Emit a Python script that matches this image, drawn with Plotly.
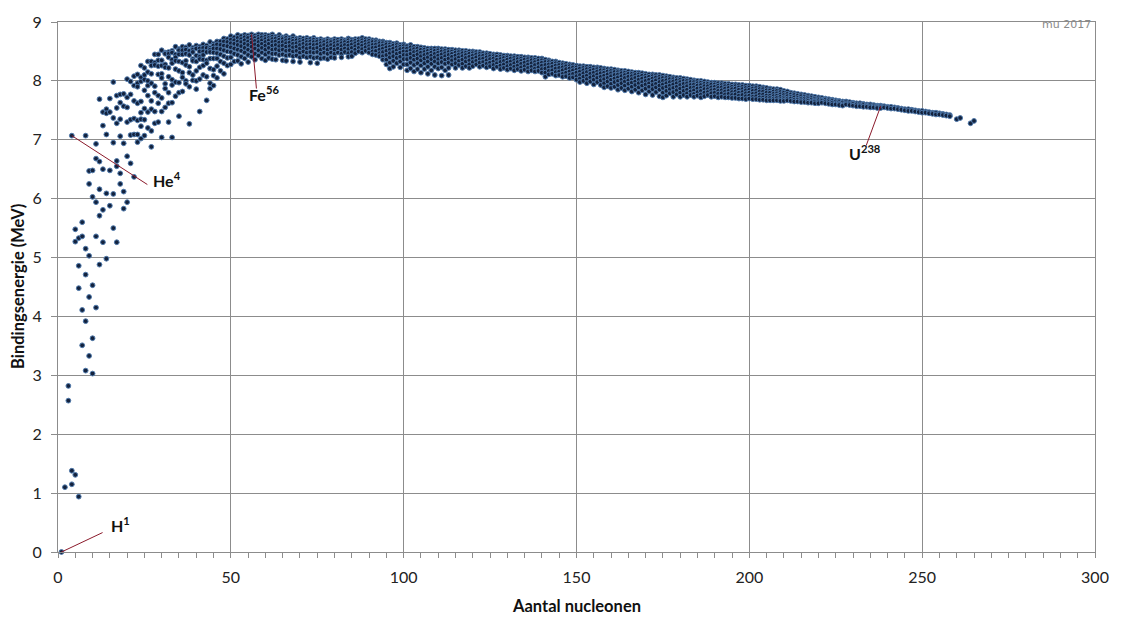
import plotly.graph_objects as go

# ---------------- data ----------------
# (mass number A, [binding energy per nucleon in MeV for the isobars shown])
light_rows = [
    (1, [0.00]), (2, [1.10]), (3, [2.82, 2.57]), (4, [7.07, 1.38, 1.15]),
    (5, [5.48, 5.27, 1.31]), (6, [5.33, 4.86, 4.48, 0.94]),
    (7, [5.60, 5.36, 4.11, 3.51]), (8, [7.07, 5.15, 4.71, 3.92, 3.08]),
    (9, [6.47, 6.25, 5.03, 4.33, 3.33]), (10, [6.48, 6.03, 4.53, 3.63, 3.03]),
    (11, [6.93, 6.68, 5.94, 5.36, 4.15]), (12, [7.69, 6.63, 6.16, 5.71, 4.88]),
    (13, [7.47, 7.24, 6.50, 5.81, 5.26]), (14, [7.52, 7.45, 7.09, 6.09, 4.98]),
    (15, [7.70, 7.47, 6.48, 5.88]), (16, [7.98, 7.37, 6.95, 6.08, 5.50]),
    (17, [7.75, 7.54, 7.28, 6.64, 6.55, 5.26]), (18, [7.77, 7.63, 7.35, 7.06, 6.43, 6.25]),
    (19, [7.78, 7.57, 6.94, 6.12, 5.83]), (20, [8.03, 7.72, 7.55, 7.30, 6.72, 5.94]),
    (21, [7.99, 7.77, 7.34, 7.08, 6.60]), (22, [8.08, 7.92, 7.66, 7.36, 7.09, 6.37]),
]

medium_rows = [
    (23, [8.11, 7.96, 7.90, 7.62, 7.33, 7.09, 6.96]),
    (24, [8.26, 8.06, 7.99, 7.65, 7.46, 7.35, 7.23, 7.02]),
    (25, [8.22, 8.10, 8.02, 7.84, 7.53, 7.34, 7.07]),
    (26, [8.33, 8.15, 8.00, 7.92, 7.75, 7.47, 7.20]),
    (27, [8.33, 8.26, 8.12, 7.96, 7.66, 7.52, 7.15, 6.88]),
    (28, [8.45, 8.31, 8.27, 7.91, 7.80, 7.48, 7.28]),
    (29, [8.45, 8.35, 8.25, 8.11, 7.75, 7.62, 7.30]),
    (30, [8.52, 8.35, 8.26, 8.12, 8.05, 7.71, 7.48, 7.04]),
    (31, [8.48, 8.46, 8.28, 8.23, 7.95, 7.87, 7.55]),
    (32, [8.49, 8.46, 8.40, 8.22, 8.07, 7.80, 7.62, 7.30]),
    (33, [8.51, 8.48, 8.36, 8.30, 8.02, 7.93, 7.63, 7.04]),
    (34, [8.58, 8.45, 8.40, 8.34, 8.20, 7.98, 7.74]),
    (35, [8.54, 8.52, 8.45, 8.33, 8.17, 7.97, 7.80, 7.40]),
    (36, [8.58, 8.52, 8.45, 8.31, 8.14, 8.06, 7.82]),
    (37, [8.57, 8.53, 8.46, 8.34, 8.27, 8.00, 7.95]),
    (38, [8.61, 8.51, 8.45, 8.44, 8.24, 8.14, 7.90, 7.27]),
    (39, [8.56, 8.53, 8.49, 8.37, 8.34, 8.10, 8.01]),
    (40, [8.60, 8.55, 8.43, 8.33, 8.17, 8.00, 7.86]),
    (41, [8.58, 8.55, 8.50, 8.41, 8.37, 8.23, 8.03, 7.48]),
    (42, [8.62, 8.56, 8.50, 8.44, 8.36, 8.26, 8.10]),
    (43, [8.60, 8.56, 8.49, 8.35, 8.30, 8.07, 7.67]),
    (44, [8.66, 8.56, 8.53, 8.49, 8.38, 8.21, 7.96, 7.87]),
    (45, [8.63, 8.60, 8.55, 8.48, 8.38, 8.19, 8.09, 7.92]),
    (46, [8.67, 8.62, 8.55, 8.47, 8.38, 8.25, 8.05]),
    (47, [8.67, 8.61, 8.54, 8.45, 8.33, 8.17]),
    (48, [8.72, 8.67, 8.60, 8.52, 8.42, 8.30, 8.12]),
    (49, [8.71, 8.66, 8.59, 8.50, 8.39, 8.26]),
]

band_50_100 = [
    (50, [8.76, 8.70, 8.64, 8.57, 8.49, 8.40, 8.28]),
    (51, [8.74, 8.69, 8.63, 8.55, 8.46, 8.33]),
    (52, [8.78, 8.73, 8.67, 8.61, 8.53, 8.44, 8.34]),
    (53, [8.76, 8.71, 8.66, 8.59, 8.51, 8.41, 8.29]),
    (54, [8.78, 8.74, 8.69, 8.63, 8.56, 8.48, 8.38]),
    (55, [8.77, 8.73, 8.67, 8.61, 8.53, 8.44, 8.32]),
    (56, [8.79, 8.75, 8.70, 8.65, 8.58, 8.50, 8.41]),
    (57, [8.77, 8.73, 8.68, 8.62, 8.55, 8.46, 8.36]),
    (58, [8.79, 8.75, 8.71, 8.66, 8.60, 8.52, 8.43]),
    (59, [8.78, 8.74, 8.69, 8.63, 8.56, 8.48, 8.38]),
    (60, [8.78, 8.75, 8.71, 8.66, 8.60, 8.53, 8.45, 8.35]),
    (61, [8.77, 8.73, 8.69, 8.63, 8.56, 8.48, 8.39]),
    (62, [8.79, 8.75, 8.71, 8.66, 8.60, 8.53, 8.46, 8.37]),
    (63, [8.75, 8.72, 8.67, 8.61, 8.54, 8.46, 8.36]),
    (64, [8.78, 8.74, 8.70, 8.65, 8.59, 8.52, 8.44]),
    (65, [8.74, 8.71, 8.66, 8.60, 8.53, 8.45, 8.35]),
    (66, [8.76, 8.73, 8.69, 8.64, 8.58, 8.51, 8.43, 8.34]),
    (67, [8.73, 8.70, 8.65, 8.59, 8.52, 8.44]),
    (68, [8.76, 8.72, 8.68, 8.63, 8.57, 8.50, 8.42, 8.33]),
    (69, [8.72, 8.69, 8.64, 8.58, 8.51, 8.43]),
    (70, [8.73, 8.70, 8.66, 8.61, 8.55, 8.48, 8.40, 8.32]),
    (71, [8.72, 8.68, 8.63, 8.57, 8.50, 8.42]),
    (72, [8.73, 8.70, 8.66, 8.61, 8.55, 8.48, 8.40]),
    (73, [8.71, 8.67, 8.62, 8.56, 8.49, 8.41, 8.31]),
    (74, [8.73, 8.70, 8.66, 8.61, 8.55, 8.48, 8.39]),
    (75, [8.70, 8.67, 8.62, 8.56, 8.49, 8.40, 8.30]),
    (76, [8.71, 8.68, 8.64, 8.59, 8.53, 8.46, 8.38]),
    (77, [8.69, 8.66, 8.61, 8.55, 8.48, 8.39]),
    (78, [8.71, 8.68, 8.64, 8.59, 8.53, 8.46, 8.37]),
    (79, [8.69, 8.66, 8.61, 8.55, 8.48, 8.40]),
    (80, [8.71, 8.68, 8.64, 8.59, 8.53, 8.46, 8.39]),
    (81, [8.70, 8.66, 8.61, 8.55, 8.48]),
    (82, [8.71, 8.68, 8.64, 8.59, 8.53, 8.46, 8.40]),
    (83, [8.69, 8.66, 8.61, 8.55, 8.49]),
    (84, [8.72, 8.69, 8.65, 8.60, 8.54, 8.47, 8.41]),
    (85, [8.70, 8.67, 8.62, 8.56, 8.49, 8.42]),
    (86, [8.71, 8.68, 8.64, 8.59, 8.53, 8.47]),
    (87, [8.71, 8.67, 8.62, 8.56, 8.50]),
    (88, [8.73, 8.69, 8.65, 8.60, 8.54, 8.48]),
    (89, [8.71, 8.67, 8.62, 8.57, 8.51]),
    (90, [8.71, 8.68, 8.64, 8.59, 8.54, 8.48]),
    (91, [8.69, 8.66, 8.61, 8.56, 8.50, 8.45]),
    (92, [8.69, 8.66, 8.62, 8.57, 8.51, 8.44]),
    (93, [8.67, 8.64, 8.59, 8.53, 8.47, 8.42]),
    (94, [8.67, 8.64, 8.60, 8.55, 8.49, 8.42, 8.36]),
    (95, [8.65, 8.62, 8.57, 8.51, 8.44, 8.36, 8.28]),
    (96, [8.65, 8.62, 8.58, 8.53, 8.47, 8.40, 8.31, 8.21]),
    (97, [8.63, 8.60, 8.55, 8.49, 8.42, 8.34, 8.24]),
    (98, [8.64, 8.61, 8.57, 8.52, 8.46, 8.39, 8.30]),
    (99, [8.61, 8.58, 8.54, 8.48, 8.41, 8.33, 8.23]),
    (100, [8.62, 8.59, 8.55, 8.50, 8.44, 8.37, 8.28]),
]

band_101_150 = [
    (101, [8.59, 8.55, 8.50, 8.44, 8.37, 8.28, 8.18]),
    (102, [8.61, 8.57, 8.52, 8.46, 8.39, 8.31, 8.21]),
    (103, [8.58, 8.54, 8.49, 8.43, 8.36, 8.27, 8.16]),
    (104, [8.58, 8.55, 8.50, 8.45, 8.38, 8.30, 8.20]),
    (105, [8.57, 8.53, 8.48, 8.42, 8.35, 8.26, 8.14]),
    (106, [8.56, 8.53, 8.49, 8.44, 8.38, 8.30, 8.20]),
    (107, [8.55, 8.51, 8.46, 8.40, 8.33, 8.24, 8.12]),
    (108, [8.55, 8.52, 8.48, 8.43, 8.37, 8.29, 8.18]),
    (109, [8.55, 8.51, 8.46, 8.40, 8.33, 8.24, 8.10]),
    (110, [8.55, 8.52, 8.48, 8.43, 8.37, 8.30, 8.21]),
    (111, [8.54, 8.50, 8.45, 8.39, 8.32, 8.23, 8.09]),
    (112, [8.54, 8.51, 8.47, 8.42, 8.36, 8.29, 8.18]),
    (113, [8.53, 8.49, 8.44, 8.38, 8.31, 8.22, 8.10]),
    (114, [8.53, 8.50, 8.46, 8.41, 8.35, 8.28]),
    (115, [8.52, 8.48, 8.43, 8.37, 8.30, 8.22]),
    (116, [8.52, 8.49, 8.45, 8.40, 8.34, 8.27]),
    (117, [8.51, 8.47, 8.42, 8.36, 8.29, 8.22]),
    (118, [8.51, 8.48, 8.44, 8.39, 8.33, 8.25]),
    (119, [8.50, 8.46, 8.41, 8.35, 8.28, 8.22]),
    (120, [8.50, 8.47, 8.43, 8.38, 8.32, 8.25]),
    (121, [8.49, 8.45, 8.40, 8.34, 8.28]),
    (122, [8.49, 8.46, 8.42, 8.37, 8.31, 8.24]),
    (123, [8.47, 8.43, 8.38, 8.32, 8.26]),
    (124, [8.47, 8.44, 8.40, 8.35, 8.29, 8.23]),
    (125, [8.46, 8.42, 8.37, 8.31, 8.25]),
    (126, [8.45, 8.42, 8.38, 8.33, 8.27, 8.21]),
    (127, [8.45, 8.41, 8.36, 8.30, 8.24]),
    (128, [8.44, 8.41, 8.37, 8.32, 8.26, 8.20]),
    (129, [8.43, 8.39, 8.34, 8.28, 8.22]),
    (130, [8.43, 8.40, 8.36, 8.31, 8.25, 8.19]),
    (131, [8.42, 8.38, 8.33, 8.27, 8.21]),
    (132, [8.42, 8.39, 8.35, 8.30, 8.24, 8.18]),
    (133, [8.41, 8.37, 8.32, 8.26, 8.20]),
    (134, [8.41, 8.38, 8.34, 8.29, 8.23, 8.17]),
    (135, [8.40, 8.36, 8.31, 8.25, 8.19]),
    (136, [8.40, 8.37, 8.33, 8.28, 8.22, 8.16]),
    (137, [8.39, 8.35, 8.30, 8.24, 8.18]),
    (138, [8.39, 8.36, 8.32, 8.27, 8.21, 8.16]),
    (139, [8.38, 8.34, 8.29, 8.23, 8.17]),
    (140, [8.38, 8.35, 8.31, 8.26, 8.20, 8.14]),
    (141, [8.36, 8.32, 8.27, 8.21, 8.14, 8.07]),
    (142, [8.35, 8.32, 8.28, 8.23, 8.17, 8.11]),
    (143, [8.33, 8.29, 8.24, 8.18, 8.12]),
    (144, [8.33, 8.30, 8.26, 8.21, 8.15, 8.09]),
    (145, [8.31, 8.27, 8.22, 8.16, 8.10]),
    (146, [8.30, 8.27, 8.23, 8.18, 8.12, 8.07]),
    (147, [8.29, 8.25, 8.20, 8.14, 8.08]),
    (148, [8.28, 8.25, 8.21, 8.16, 8.10, 8.05]),
    (149, [8.27, 8.23, 8.18, 8.12, 8.06]),
    (150, [8.26, 8.23, 8.19, 8.14, 8.08, 8.02]),
]

band_151_200 = [
    (151, [8.25, 8.21, 8.16, 8.10, 8.04, 7.98]),
    (152, [8.25, 8.22, 8.18, 8.13, 8.07, 8.00]),
    (153, [8.24, 8.20, 8.15, 8.09, 8.03, 7.96]),
    (154, [8.24, 8.21, 8.17, 8.12, 8.06, 7.99]),
    (155, [8.23, 8.19, 8.14, 8.08, 8.02, 7.94]),
    (156, [8.23, 8.20, 8.16, 8.11, 8.05, 7.98]),
    (157, [8.22, 8.18, 8.13, 8.07, 8.01, 7.93]),
    (158, [8.21, 8.18, 8.14, 8.09, 8.03, 7.96, 7.89]),
    (159, [8.20, 8.16, 8.11, 8.05, 7.99, 7.91]),
    (160, [8.20, 8.17, 8.13, 8.08, 8.02, 7.95, 7.88]),
    (161, [8.19, 8.15, 8.10, 8.04, 7.98, 7.90]),
    (162, [8.18, 8.15, 8.11, 8.06, 8.00, 7.93, 7.85]),
    (163, [8.17, 8.13, 8.08, 8.02, 7.96, 7.88]),
    (164, [8.17, 8.14, 8.10, 8.05, 7.99, 7.92, 7.84]),
    (165, [8.16, 8.12, 8.07, 8.01, 7.95, 7.87]),
    (166, [8.15, 8.12, 8.08, 8.03, 7.97, 7.90, 7.82]),
    (167, [8.14, 8.10, 8.05, 7.99, 7.93, 7.85]),
    (168, [8.14, 8.11, 8.07, 8.02, 7.96, 7.89, 7.80]),
    (169, [8.13, 8.09, 8.04, 7.98, 7.92, 7.84]),
    (170, [8.12, 8.09, 8.05, 8.00, 7.94, 7.87, 7.77]),
    (171, [8.11, 8.07, 8.02, 7.96, 7.90, 7.82]),
    (172, [8.11, 8.08, 8.04, 7.99, 7.93, 7.86, 7.76]),
    (173, [8.10, 8.06, 8.01, 7.95, 7.89, 7.81]),
    (174, [8.10, 8.07, 8.03, 7.98, 7.92, 7.85, 7.74]),
    (175, [8.09, 8.05, 8.00, 7.94, 7.88, 7.80, 7.72]),
    (176, [8.08, 8.05, 8.01, 7.96, 7.90, 7.83, 7.75]),
    (177, [8.07, 8.03, 7.98, 7.92, 7.86, 7.79]),
    (178, [8.06, 8.03, 7.99, 7.94, 7.88, 7.81, 7.73]),
    (179, [8.05, 8.01, 7.96, 7.90, 7.84, 7.77]),
    (180, [8.05, 8.02, 7.98, 7.93, 7.87, 7.80, 7.73]),
    (181, [8.04, 8.00, 7.95, 7.89, 7.83, 7.76]),
    (182, [8.03, 8.00, 7.96, 7.91, 7.85, 7.79, 7.73]),
    (183, [8.02, 7.98, 7.93, 7.88, 7.82, 7.76]),
    (184, [8.01, 7.98, 7.94, 7.89, 7.84, 7.78, 7.73]),
    (185, [8.00, 7.96, 7.92, 7.87, 7.81, 7.75]),
    (186, [8.00, 7.97, 7.93, 7.88, 7.83, 7.77, 7.72]),
    (187, [7.99, 7.95, 7.91, 7.86, 7.80, 7.74]),
    (188, [7.98, 7.95, 7.91, 7.86, 7.81, 7.76]),
    (189, [7.97, 7.94, 7.89, 7.84, 7.79, 7.73]),
    (190, [7.97, 7.94, 7.90, 7.85, 7.80, 7.74]),
    (191, [7.96, 7.92, 7.88, 7.83, 7.78, 7.72]),
    (192, [7.96, 7.93, 7.89, 7.84, 7.79, 7.73]),
    (193, [7.95, 7.91, 7.87, 7.82, 7.77, 7.72]),
    (194, [7.95, 7.92, 7.88, 7.83, 7.78, 7.72]),
    (195, [7.94, 7.90, 7.86, 7.81, 7.76, 7.71]),
    (196, [7.94, 7.91, 7.87, 7.82, 7.77, 7.71]),
    (197, [7.93, 7.89, 7.85, 7.80, 7.75, 7.70]),
    (198, [7.93, 7.90, 7.86, 7.81, 7.76, 7.70]),
    (199, [7.92, 7.88, 7.84, 7.79, 7.74, 7.69]),
    (200, [7.92, 7.89, 7.85, 7.80, 7.75, 7.70]),
]

band_201_265 = [
    (201, [7.91, 7.87, 7.83, 7.78, 7.73, 7.69]),
    (202, [7.91, 7.88, 7.84, 7.79, 7.74, 7.69]),
    (203, [7.90, 7.86, 7.82, 7.77, 7.72, 7.68]),
    (204, [7.89, 7.86, 7.82, 7.77, 7.72, 7.68]),
    (205, [7.88, 7.84, 7.80, 7.75, 7.71, 7.67]),
    (206, [7.87, 7.84, 7.80, 7.75, 7.71, 7.67]),
    (207, [7.86, 7.82, 7.78, 7.74, 7.70, 7.67]),
    (208, [7.86, 7.83, 7.79, 7.75, 7.71, 7.67]),
    (209, [7.85, 7.81, 7.77, 7.73, 7.69, 7.66]),
    (210, [7.83, 7.80, 7.76, 7.72, 7.69, 7.66]),
    (211, [7.82, 7.78, 7.74, 7.70, 7.67]),
    (212, [7.80, 7.77, 7.73, 7.70, 7.66]),
    (213, [7.79, 7.76, 7.72, 7.68, 7.65]),
    (214, [7.78, 7.75, 7.71, 7.68, 7.65]),
    (215, [7.77, 7.74, 7.70, 7.67, 7.64]),
    (216, [7.76, 7.73, 7.70, 7.67, 7.64]),
    (217, [7.75, 7.72, 7.69, 7.66, 7.63]),
    (218, [7.74, 7.71, 7.68, 7.65, 7.63]),
    (219, [7.73, 7.70, 7.67, 7.65, 7.62]),
    (220, [7.72, 7.69, 7.67, 7.64, 7.62]),
    (221, [7.71, 7.68, 7.66, 7.63]),
    (222, [7.70, 7.68, 7.65, 7.62]),
    (223, [7.69, 7.67, 7.64, 7.61]),
    (224, [7.68, 7.66, 7.63, 7.60]),
    (225, [7.67, 7.65, 7.62, 7.60]),
    (226, [7.66, 7.64, 7.61, 7.59]),
    (227, [7.65, 7.63, 7.60, 7.58]),
    (228, [7.65, 7.62, 7.60]),
    (229, [7.64, 7.61, 7.59]),
    (230, [7.63, 7.61, 7.58]),
    (231, [7.62, 7.60, 7.57]),
    (232, [7.62, 7.59, 7.57]),
    (233, [7.61, 7.59, 7.56]),
    (234, [7.60, 7.58, 7.56]),
    (235, [7.60, 7.57, 7.55]),
    (236, [7.59, 7.57, 7.55]),
    (237, [7.58, 7.56, 7.54]),
    (238, [7.58, 7.56, 7.54]),
    (239, [7.57, 7.55]), (240, [7.56, 7.54]), (241, [7.56, 7.53]),
    (242, [7.55, 7.53]), (243, [7.54, 7.52]), (244, [7.53, 7.51]),
    (245, [7.52, 7.50]), (246, [7.52, 7.49]), (247, [7.51, 7.49]),
    (248, [7.50, 7.48]), (249, [7.49, 7.47]), (250, [7.49, 7.46]),
    (251, [7.48, 7.46]), (252, [7.47, 7.45]), (253, [7.46, 7.44]),
    (254, [7.46, 7.43]), (255, [7.45, 7.43]), (256, [7.44, 7.42]),
    (257, [7.43, 7.41]), (258, [7.42, 7.40]),
    (260, [7.35]), (261, [7.37]), (264, [7.28]), (265, [7.32]),
]

# labelled nuclides: (label html, A, B, label A, label B, line end A, line end B)
labels = [
    ("H<sup>1</sup>", 1, 0.00, 14.8, 0.47, 12.9, 0.33),
    ("He<sup>4</sup>", 4, 7.07, 27.0, 6.33, 25.85, 6.24),
    ("Fe<sup>56</sup>", 56, 8.79, 54.7, 7.78, 57.4, 7.87),
    ("U<sup>238</sup>", 238, 7.57, 228.3, 6.79, 233.8, 6.90),
]

x_ticks = [0, 50, 100, 150, 200, 250, 300]
y_ticks = [0, 1, 2, 3, 4, 5, 6, 7, 8, 9]

# ---------------- build ----------------
xs, ys = [], []
for rows in (light_rows, medium_rows, band_50_100, band_101_150, band_151_200, band_201_265):
    for a, vals in rows:
        for v in vals:
            xs.append(a)
            ys.append(v)

fig = go.Figure()
fig.add_trace(go.Scatter(
    x=xs, y=ys, mode="markers", cliponaxis=False,
    marker=dict(size=4.8, color="#13223d", line=dict(color="#4f79ab", width=1)),
    hoverinfo="x+y", showlegend=False,
))

line_col = "#8b1a2b"
for txt, a, b, la, lb, ea, eb in labels:
    fig.add_shape(type="line", x0=a, y0=b, x1=ea, y1=eb, xref="x", yref="y",
                  line=dict(color=line_col, width=1))
    fig.add_annotation(x=la, y=lb, xref="x", yref="y", text=txt, showarrow=False,
                       xanchor="left", yanchor="middle",
                       font=dict(family="Lato", size=16, color="#111111", weight="bold"))

fig.add_annotation(x=1, y=1, xref="paper", yref="paper", text="mu 2017",
                   showarrow=False, xanchor="right", yanchor="top", xshift=-2, yshift=6,
                   font=dict(family="Verdana, DejaVu Sans", size=11, color="#8a8a8a"))

fig.add_annotation(x=0.5, y=0, xref="paper", yref="paper", text="Aantal nucleonen",
                   showarrow=False, xanchor="center", yanchor="middle", yshift=-54,
                   font=dict(family="Lato", size=16.5, color="#111111", weight="bold"))
fig.add_annotation(x=0, y=0.5, xref="paper", yref="paper", text="Bindingsenergie (MeV)",
                   showarrow=False, xanchor="center", yanchor="middle", xshift=-40,
                   textangle=-90,
                   font=dict(family="Lato", size=16.5, color="#111111", weight="bold"))

grid = "#8c8c8c"
fig.update_layout(
    width=1121, height=619,
    margin=dict(l=58, r=22, t=12, b=67),
    paper_bgcolor="white", plot_bgcolor="white",
    font=dict(family="Lato", size=16, color="#222222"),
    xaxis=dict(range=[0, 300], tickvals=x_ticks, showgrid=True, gridcolor=grid, gridwidth=1,
               zeroline=False, showline=True, linecolor=grid, linewidth=1, mirror=True,
               ticks="outside", ticklen=5, tickcolor=grid, ticklabelstandoff=6,
               minor=dict(ticks="outside", dtick=5, ticklen=5, tickcolor=grid, showgrid=False),
               tickfont=dict(family="Lato", size=16, color="#222222")),
    yaxis=dict(range=[0, 9], tickvals=y_ticks, showgrid=True, gridcolor=grid, gridwidth=1,
               zeroline=False, showline=True, linecolor=grid, linewidth=1, mirror=True,
               ticks="outside", ticklen=6, tickcolor=grid, ticklabelstandoff=6,
               tickfont=dict(family="Lato", size=16, color="#222222")),
)

fig.write_html("out.html")
